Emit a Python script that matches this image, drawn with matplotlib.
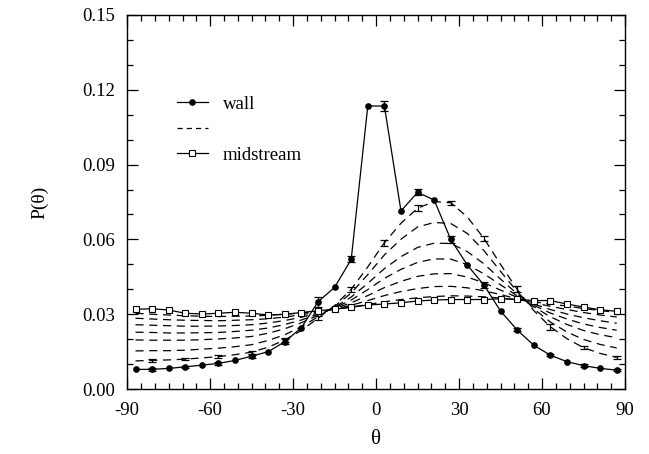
import numpy as np
import matplotlib
matplotlib.use("Agg")
import matplotlib.pyplot as plt
from matplotlib.ticker import MultipleLocator

plt.rcParams['font.family'] = ['Liberation Serif', 'DejaVu Serif']
plt.rcParams['axes.unicode_minus'] = False

# bin centres [deg]
theta = [-87, -81, -75, -69, -63, -57, -51, -45, -39, -33, -27, -21, -15, -9, -3,
         3, 9, 15, 21, 27, 33, 39, 45, 51, 57, 63, 69, 75, 81, 87]

# distribution next to the wall
p_wall = [0.0079, 0.0079, 0.0083, 0.0089, 0.0096, 0.0103, 0.0115, 0.0132, 0.0150, 0.0190,
          0.0246, 0.0350, 0.0408, 0.0520, 0.1135, 0.1135, 0.0714, 0.0789, 0.0758, 0.0600,
          0.0497, 0.0417, 0.0313, 0.0237, 0.0176, 0.0136, 0.0110, 0.0094, 0.0083, 0.0076]
err_wall = [0.0004, 0.0005, 0.0004, 0.0005, 0.0004, 0.0006, 0.0004, 0.0006, 0.0004, 0.0010,
            0.0004, 0.0020, 0.0004, 0.0012, 0.0004, 0.0020, 0.0004, 0.0012, 0.0004, 0.0015,
            0.0004, 0.0012, 0.0004, 0.0006, 0.0004, 0.0005, 0.0004, 0.0005, 0.0004, 0.0005]

# distribution at the channel centre
p_mid = [0.0320, 0.0322, 0.0317, 0.0304, 0.0301, 0.0304, 0.0308, 0.0304, 0.0297, 0.0300,
         0.0307, 0.0314, 0.0320, 0.0328, 0.0337, 0.0341, 0.0346, 0.0353, 0.0357, 0.0359,
         0.0359, 0.0359, 0.0362, 0.0360, 0.0355, 0.0355, 0.0341, 0.0329, 0.0318, 0.0312]

# intermediate positions, nearest the wall first
p_d1 = [0.0113, 0.0115, 0.0117, 0.0120, 0.0125, 0.0130, 0.0138, 0.0148, 0.0168, 0.0197,
        0.0235, 0.0284, 0.0335, 0.0400, 0.0490, 0.0587, 0.0665, 0.0725, 0.0752, 0.0747,
        0.0690, 0.0604, 0.0500, 0.0400, 0.0315, 0.0250, 0.0202, 0.0166, 0.0143, 0.0127]
err_d1 = [0.0, 0.0006, 0.0, 0.0005, 0.0, 0.0006, 0.0, 0.0006, 0.0, 0.0008,
          0.0, 0.0009, 0.0, 0.0010, 0.0, 0.0012, 0.0, 0.0012, 0.0, 0.0008,
          0.0, 0.0010, 0.0, 0.0012, 0.0, 0.0012, 0.0, 0.0006, 0.0, 0.0006]
p_d2 = [0.0153, 0.0154, 0.0154, 0.0156, 0.0160, 0.0164, 0.0170, 0.0178, 0.0195, 0.0218,
        0.0250, 0.0290, 0.0332, 0.0385, 0.0459, 0.0538, 0.0601, 0.0650, 0.0668, 0.0664,
        0.0624, 0.0555, 0.0472, 0.0391, 0.0322, 0.0269, 0.0229, 0.0199, 0.0179, 0.0165]
p_d3 = [0.0197, 0.0196, 0.0196, 0.0196, 0.0198, 0.0201, 0.0205, 0.0211, 0.0224, 0.0242,
        0.0266, 0.0296, 0.0328, 0.0369, 0.0424, 0.0483, 0.0531, 0.0568, 0.0585, 0.0584,
        0.0551, 0.0502, 0.0441, 0.0382, 0.0330, 0.0290, 0.0259, 0.0235, 0.0218, 0.0206]
p_d4 = [0.0228, 0.0227, 0.0225, 0.0225, 0.0226, 0.0227, 0.0231, 0.0236, 0.0245, 0.0259,
        0.0277, 0.0301, 0.0326, 0.0357, 0.0399, 0.0444, 0.0480, 0.0508, 0.0522, 0.0521,
        0.0499, 0.0462, 0.0418, 0.0374, 0.0336, 0.0305, 0.0281, 0.0261, 0.0247, 0.0236]
p_d5 = [0.0258, 0.0256, 0.0254, 0.0252, 0.0252, 0.0253, 0.0255, 0.0258, 0.0265, 0.0275,
        0.0288, 0.0305, 0.0323, 0.0346, 0.0375, 0.0407, 0.0432, 0.0452, 0.0462, 0.0463,
        0.0449, 0.0426, 0.0397, 0.0368, 0.0341, 0.0319, 0.0301, 0.0286, 0.0274, 0.0264]
p_d6 = [0.0284, 0.0281, 0.0278, 0.0276, 0.0275, 0.0274, 0.0276, 0.0278, 0.0282, 0.0289,
        0.0298, 0.0309, 0.0321, 0.0336, 0.0355, 0.0375, 0.0391, 0.0403, 0.0411, 0.0412,
        0.0406, 0.0394, 0.0379, 0.0362, 0.0346, 0.0332, 0.0319, 0.0307, 0.0297, 0.0289]
p_d7 = [0.0304, 0.0300, 0.0297, 0.0294, 0.0292, 0.0291, 0.0292, 0.0293, 0.0296, 0.0300,
        0.0305, 0.0312, 0.0320, 0.0329, 0.0339, 0.0350, 0.0359, 0.0366, 0.0371, 0.0374,
        0.0373, 0.0370, 0.0365, 0.0358, 0.0350, 0.0341, 0.0333, 0.0323, 0.0315, 0.0307]

fig = plt.figure(figsize=(6.49, 4.54), dpi=100)
ax = fig.add_axes([0.196, 0.143, 0.767, 0.824])

dash = (0, (6.5, 4.5))
lw = 0.9

for p in [p_d1, p_d2, p_d3, p_d4, p_d5, p_d6, p_d7]:
    ax.plot(theta, p, color='black', lw=lw, linestyle=dash)

# error bars only on every second bin
th = np.array(theta)
e1 = np.array(err_d1)
sel = e1 > 0
ax.errorbar(th[sel], np.array(p_d1)[sel], yerr=e1[sel], fmt='none', ecolor='black',
            elinewidth=0.9, capsize=3, capthick=0.9)
ew = np.array(err_wall)
selw = np.arange(len(theta)) % 2 == 1
ax.errorbar(th[selw], np.array(p_wall)[selw], yerr=ew[selw], fmt='none', ecolor='black',
            elinewidth=0.9, capsize=3, capthick=0.9)

ax.plot(theta, p_mid, color='black', lw=lw, marker='s', ms=5, mfc='white',
        mec='black', mew=0.8)
ax.plot(theta, p_wall, color='black', lw=lw, marker='o', ms=3.8, mfc='black', mec='black')

# legend handles
h_wall, = ax.plot([], [], color='black', lw=lw, marker='o', ms=3.8)
h_dash, = ax.plot([], [], color='black', lw=lw, linestyle=(0, (4.2, 3.2)))
h_mid, = ax.plot([], [], color='black', lw=lw, marker='s', ms=5, mfc='white', mew=0.8)
ax.legend([h_wall, h_dash, h_mid], ['wall', '', 'midstream'], loc='upper left',
          bbox_to_anchor=(0.066, 0.83), frameon=False, fontsize=13.5,
          handlelength=1.65, handletextpad=0.8, labelspacing=0.45)

ax.set_xlim(-90, 90)
ax.set_ylim(0.0, 0.15)
ax.xaxis.set_major_locator(MultipleLocator(30))
ax.xaxis.set_minor_locator(MultipleLocator(5))
ax.yaxis.set_minor_locator(MultipleLocator(0.01))
ax.set_yticks([0.0, 0.03, 0.06, 0.09, 0.12, 0.15])
ax.set_yticklabels(['0.00', '0.03', '0.06', '0.09', '0.12', '0.15'])
ax.tick_params(which='both', direction='in', top=True, right=True, width=0.9,
               labelsize=13.5, pad=9)
ax.tick_params(which='major', length=8)
ax.tick_params(which='minor', length=4.5)
for s in ax.spines.values():
    s.set_linewidth(1.0)

ax.set_xlabel('θ', fontsize=15, labelpad=8)
ax.set_ylabel('P(θ)', fontsize=14, labelpad=24)

fig.savefig('out.png', dpi=100)
